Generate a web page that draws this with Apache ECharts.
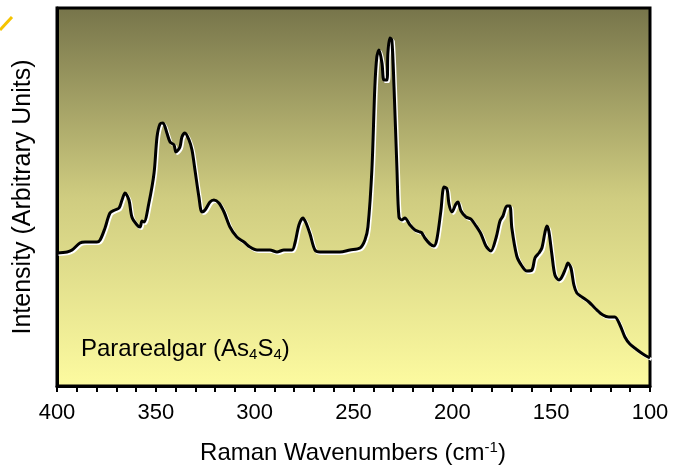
<!DOCTYPE html>
<html>
<head>
<meta charset="utf-8">
<script src="https://cdn.jsdelivr.net/npm/echarts@6/dist/echarts.min.js"></script>
<style>html,body{margin:0;padding:0;background:#fff;}#c{width:675px;height:473px;}</style>
</head>
<body>
<div id="c"></div>
<script>
var wavenumbers = [400,394.9,392.4,388.4,385.8,379.8,378.2,375.7,373.2,370.7,368.6,367.1,365.6,363.6,362.1,359.5,358.0,357.0,356.0,353.5,350.9,349.4,347.9,346.4,344.4,342.8,340.8,339.8,337.8,336.8,335.3,333.2,331.7,330.2,328.2,326.7,325.1,322.6,320.6,318.1,315.5,312.5,309.0,305.4,302.4,298.8,292.3,288.7,285.2,281.1,279.6,277.6,275.6,274.0,272.0,269.5,267.0,261.9,256.9,251.8,246.7,244.2,242.7,240.7,239.2,238.2,237.1,235.6,234.6,233.1,232.6,231.6,230.6,229.5,228.0,227.0,225.5,224.0,221.4,218.9,216.4,215.4,213.9,211.3,209.3,207.8,205.8,204.2,202.7,201.7,200.2,198.2,197.2,195.6,193.1,190.6,188.0,185.5,183.0,180.5,177.9,175.9,174.4,172.4,170.9,169.9,167.4,164.8,162.3,159.7,158.2,156.2,154.7,153.2,152.2,151.2,149.6,148.1,146.1,144.6,142.6,141.5,140.0,138.5,137.0,134.4,130.9,127.4,123.8,120.8,117.8,115.2,112.7,110.2,107.1,103.6,100];
var intensity = [133,134,136,143,144,144,146,158,173,176,178,186,193,186,169,161,159,165,164,183,213,249,262,263,253,244,241,234,239,249,253,246,236,216,189,174,176,184,186,183,174,159,149,144,139,136,136,134,136,136,143,161,168,163,152,136,134,134,134,136,138,146,159,216,299,329,336,323,306,306,333,348,346,299,216,169,166,168,161,156,154,153,148,142,140,147,175,199,197,182,174,182,184,175,169,167,160,152,140,135,148,165,170,180,180,158,130,120,115,116,128,133,138,153,160,155,131,111,106,109,118,123,118,101,93,89,84,77,71,69,69,61,49,42,37,32,28];
var xTicks = [400,350,300,250,200,150,100];

var chart = echarts.init(document.getElementById('c'));
var data = wavenumbers.map(function(w,i){return [w,intensity[i]];});
var font = '"Liberation Sans", Arial, sans-serif';
chart.setOption({
  animation:false,
  grid:{left:57,right:25,top:8,bottom:87,show:true,borderColor:'#000',borderWidth:3,
    backgroundColor:{type:'linear',x:0,y:0,x2:0,y2:1,colorStops:[
      {offset:0,color:'#76744a'},{offset:0.5,color:'#cfcc80'},{offset:1,color:'#fdfba0'}]}},
  xAxis:{type:'value',min:100,max:400,interval:50,inverse:true,
    axisLine:{show:true,lineStyle:{color:'#000',width:3}},
    axisTick:{show:true,inside:false,length:6,lineStyle:{color:'#000',width:2}},
    minorTick:{show:true,splitNumber:5,length:6,lineStyle:{color:'#000',width:2}},
    splitLine:{show:false},
    axisLabel:{color:'#000',fontSize:22,fontFamily:font,margin:16,
      formatter:function(v){return xTicks.indexOf(v)>=0?String(v):'';}}
  },
  yAxis:{type:'value',min:0,max:378,
    axisLine:{show:true,lineStyle:{color:'#000',width:3}},
    axisTick:{show:false},axisLabel:{show:false},splitLine:{show:false},
    name:'Intensity (Arbitrary Units)',nameLocation:'middle',nameGap:21,
    nameTextStyle:{color:'#000',fontSize:25,fontFamily:font}
  },
  series:[{type:'line',data:data,showSymbol:false,smooth:0.3,
    lineStyle:{color:'#000',width:3,shadowColor:'#ffffff',shadowBlur:0,shadowOffsetX:1.5,shadowOffsetY:1.5}}],
  graphic:[
    {type:'line',shape:{x1:0,y1:30,x2:12,y2:17},style:{stroke:'#f5c400',lineWidth:3}},
    {type:'text',x:353,y:440,style:{
      text:'Raman Wavenumbers (cm{sup|-1})',fill:'#000',font:'24px '+font,align:'center',
      rich:{sup:{fontSize:15,padding:[0,0,12,0],fill:'#000'}}}},
    {type:'text',x:81,y:337,style:{
      text:'Pararealgar (As{sub|4}S{sub|4})',fill:'#000',font:'24px '+font,
      rich:{sub:{fontSize:15,padding:[10,0,0,0],fill:'#000'}}}}
  ]
});
</script>
</body>
</html>
